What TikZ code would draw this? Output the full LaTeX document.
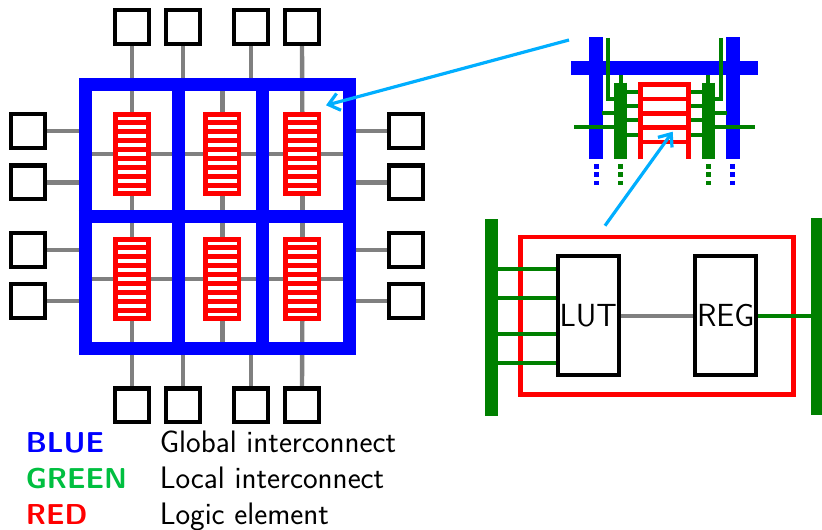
\documentclass[tikz,border=0pt]{standalone}
\usetikzlibrary{calc,backgrounds,arrows.meta}
\definecolor{dkgreen}{RGB}{0,128,0}
\definecolor{ltgreen}{RGB}{0,191,64}
\definecolor{arrowblue}{RGB}{0,174,255}
\definecolor{wiregray}{RGB}{128,128,128}
\tikzset{
  iobox/.style={draw=black,line width=3.3pt,minimum size=25.2pt,inner sep=0pt},
  lebox/.style={draw=red,line width=3.4pt,fill=white,minimum width=25.1pt,minimum height=59.6pt,inner sep=0pt},
  wire/.style={draw=wiregray,line width=3.3pt},
  bluewire/.style={draw=blue,line width=10pt},
  greenthin/.style={draw=dkgreen,line width=3.2pt},
  greenbar/.style={draw=dkgreen,line width=10pt},
  redwire/.style={draw=red,line width=3.4pt},
  dotsblue/.style={draw=blue,line width=3.4pt,dash pattern=on 3.4pt off 2.9pt},
  dotsgreen/.style={draw=dkgreen,line width=3.4pt,dash pattern=on 3.4pt off 2.9pt},
  zoomarrow/.style={draw=arrowblue,line width=2.4pt,-{Straight Barb[length=8pt,width=13pt,line width=2.4pt]}},
  barnode/.style={fill=dkgreen,minimum width=10pt,minimum height=148pt,inner sep=0pt,outer sep=0pt},
  logicbox/.style={draw=black,line width=3.3pt,fill=white,minimum width=45.7pt,minimum height=89.2pt,inner sep=0pt,font=\sffamily\fontsize{24}{27}\selectfont},
  legend/.style={anchor=base west,inner sep=0pt,font=\sffamily\fontsize{23.3}{26}\selectfont},
  legendb/.style={legend,font=\sffamily\bfseries\fontsize{21.6}{26}\selectfont},
}
\begin{document}
\begin{tikzpicture}[x=0.75pt,y=-0.75pt]
\useasboundingbox (0,0) rectangle (822,530);
% main frame
\node[draw=blue,line width=10pt,minimum width=198pt,minimum height=198pt,inner sep=0pt] (frame) at (217.5,216.5) {};
\coordinate (d1) at (178.5,216.5);
\coordinate (d2) at (262.5,216.5);
\draw[bluewire] (d1 |- frame.north) -- (d1 |- frame.south);
\draw[bluewire] (d2 |- frame.north) -- (d2 |- frame.south);
\draw[bluewire] (frame.west) -- (frame.east);
% logic elements
\foreach \nm/\cx/\cy in {le11/132/154,le12/222.3/154,le13/302.3/154,le21/132/279,le22/222.3/279,le23/302.3/279}{
  \node[lebox] (\nm) at (\cx,\cy) {};
  \foreach \k in {1,...,8}
    \draw[redwire] ($(\nm.west)+(0,{8.95*(\k-4.5)})$) -- ($(\nm.east)+(0,{8.95*(\k-4.5)})$);
}
% IO boxes
\foreach \nm/\cx/\cy in {t1/132/27,t2/183/27,t3/251/27,t4/302/27,
  b1/132/405.5,b2/183/405.5,b3/251/405.5,b4/302/405.5,
  l1/28/131,l2/28/182.5,l3/28/250,l4/28/301,
  r1/406/131,r2/406/182.5,r3/406/250,r4/406/301}
  \node[iobox] (\nm) at (\cx,\cy) {};
\begin{pgfonlayer}{background}
  \draw[wire] (t1.south) -- (le11.north);
  \draw[wire] (t4.south) -- (le13.north);
  \draw[wire] (t2.south) -- (t2.south |- frame.north);
  \draw[wire] (t3.south) -- (t3.south |- frame.north);
  \draw[wire] (le12.north |- frame.north) -- (le12.north);
  \draw[wire] (le11.south) -- (le21.north);
  \draw[wire] (le12.south) -- (le22.north);
  \draw[wire] (le13.south) -- (le23.north);
  \draw[wire] (le21.south) -- (b1.north);
  \draw[wire] (le22.south) -- (le22.south |- frame.south);
  \draw[wire] (le23.south) -- (b4.north);
  \draw[wire] (b2.north) -- (b2.north |- frame.south);
  \draw[wire] (b3.north) -- (b3.north |- frame.south);
  \foreach \n in {l1,l2,l3,l4} \draw[wire] (\n.east) -- (\n.east -| frame.west);
  \foreach \n in {r1,r2,r3,r4} \draw[wire] (\n.west) -- (\n.west -| frame.east);
  \foreach \r in {1,2}{
    \draw[wire] (le\r1.west -| frame.west) -- (le\r1.west);
    \draw[wire] (le\r1.east) -- (le\r2.west);
    \draw[wire] (le\r2.east) -- (le\r3.west);
    \draw[wire] (le\r3.east) -- (le\r3.east -| frame.east);
  }
\end{pgfonlayer}
% inset: global lines
\draw[bluewire] (596,37.3) -- (596,159.3);
\draw[bluewire] (733,37.3) -- (733,159.3);
\draw[bluewire] (571,68) -- (757.7,68);
% inset: local lines
\draw[greenbar] (620.7,82.7) -- (620.7,159.3);
\draw[greenbar] (708.3,82.7) -- (708.3,159.3);
\draw[greenthin] (620.7,74.7) -- (620.7,84);
\draw[greenthin] (708.3,74.7) -- (708.3,84);
\draw[greenthin] (608.2,38) -- (608.2,99.3) -- (616,99.3);
\draw[greenthin] (720.7,38) -- (720.7,99.3) -- (713,99.3);
\draw[greenthin] (602,113) -- (616,113);
\draw[greenthin] (713,113) -- (727,113);
\draw[greenthin] (574,127.3) -- (616,127.3);
\draw[greenthin] (713,127.3) -- (755,127.3);
\foreach \y in {91.7,106,120.3,134.7}{
  \draw[greenthin] (625,\y) -- (641,\y);
  \draw[greenthin] (688,\y) -- (704,\y);
}
% inset: logic element
\draw[redwire] (640.3,159.3) -- (640.3,84.7) -- (688.7,84.7) -- (688.7,159.3);
\foreach \y in {99,113.7,127.7,142}
  \draw[redwire] (640.3,\y) -- (688.7,\y);
% inset: continuation dots
\draw[dotsblue] (596.3,164) -- (596.3,186);
\draw[dotsgreen] (620.7,164) -- (620.7,186);
\draw[dotsgreen] (708.3,164) -- (708.3,186);
\draw[dotsblue] (732.7,164) -- (732.7,186);
% detail
\node[draw=red,line width=3.4pt,minimum width=204.5pt,minimum height=118.3pt,inner sep=0pt] (ledetail) at (656.9,315.9) {};
\node[barnode] (lbar) at (491.7,317.8) {};
\node[barnode,minimum width=8.25pt] (rbar) at (816.5,316.8) {};
\node[logicbox] (lut) at (588.3,315.7) {LUT};
\node[logicbox] (reg) at (725.7,315.7) {REG};
\foreach \f in {.119,.359,.646,.886}{
  \coordinate (c) at ($(lut.north west)!\f!(lut.south west)$);
  \draw[greenthin] (lbar.east |- c) -- (c);
}
\draw[draw=wiregray,line width=2.8pt] (lut.east) -- (reg.west);
\draw[draw=dkgreen,line width=2.8pt] (reg.east) -- (reg.east -| rbar.west);
% zoom arrows
\coordinate (za1) at (569,40);
\coordinate (zb1) at (326,105.3);
\coordinate (za2) at (605,225.7);
\coordinate (zb2) at (672.7,131.7);
\draw[zoomarrow] (za1) -- (zb1);
\draw[zoomarrow] (za2) -- (zb2);
% legend
\node[legendb,text=blue] (k1) at (25.5,453) {BLUE};
\node[legendb,text=ltgreen] (k2) at (25.5,488.7) {GREEN};
\node[legendb,text=red] (k3) at (25.5,524.7) {RED};
\node[legend] (v1) at (159.5,453) {Global interconnect};
\node[legend] (v2) at (159.5,488.7) {Local interconnect};
\node[legend] (v3) at (159.5,524.7) {Logic element};
\end{tikzpicture}
\end{document}
